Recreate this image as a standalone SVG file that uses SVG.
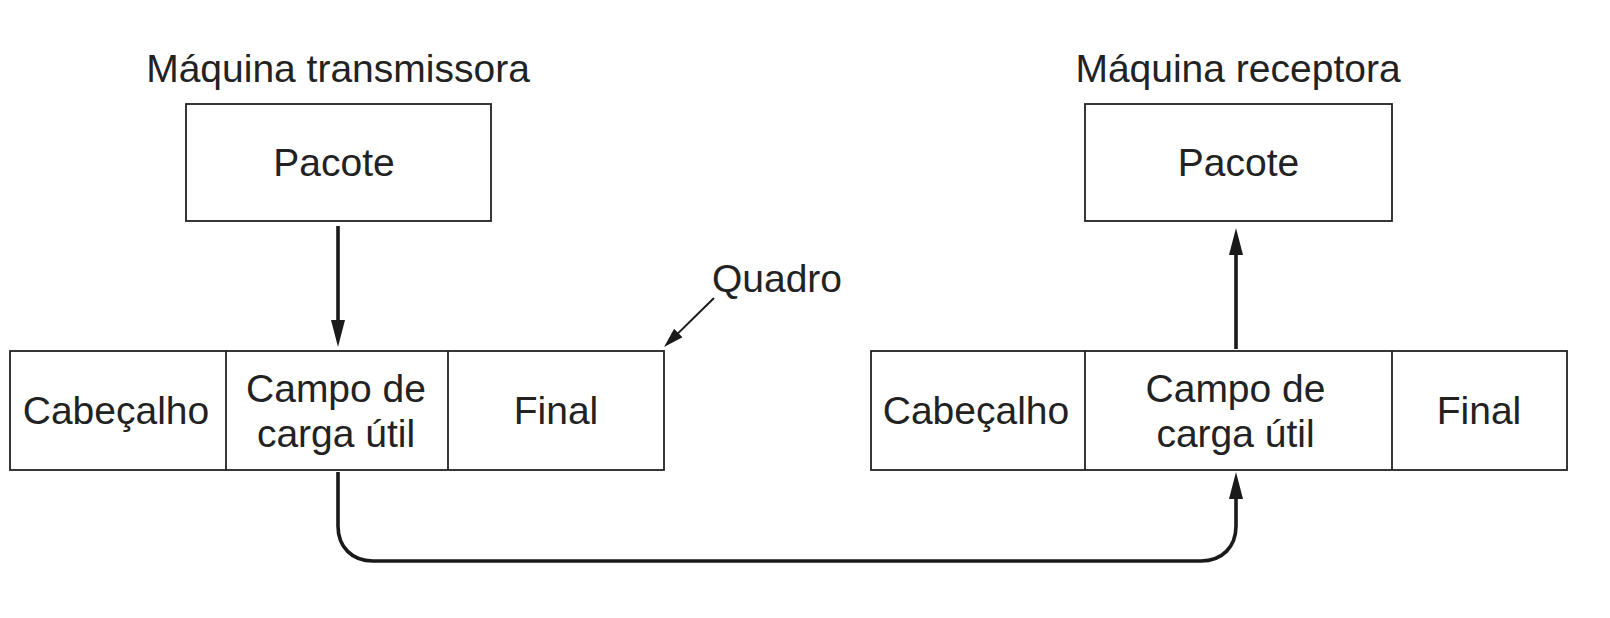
<svg xmlns="http://www.w3.org/2000/svg" width="1610" height="618" viewBox="0 0 1610 618">
<defs>
<style>
.box{fill:#fff;stroke:#222;stroke-width:1.8}
.div{stroke:#222;stroke-width:1.8}
.t{font-family:"Liberation Sans",Arial,sans-serif;font-size:39px;fill:#222;text-anchor:middle}
.conn{fill:none;stroke:#1a1a1a;stroke-width:3.6}
.thin{fill:none;stroke:#1a1a1a;stroke-width:2}
</style>
<marker id="ah" markerUnits="userSpaceOnUse" markerWidth="28" markerHeight="16" refX="7" refY="7" orient="auto" viewBox="0 0 28 14">
<path d="M0,0 L27,7 L0,14 z" fill="#1a1a1a"/>
</marker>
<marker id="ahs" markerUnits="userSpaceOnUse" markerWidth="22" markerHeight="14" refX="8" refY="6" orient="auto" viewBox="0 0 22 12">
<path d="M0,0 L20,6 L0,12 z" fill="#1a1a1a"/>
</marker>
</defs>
<rect width="1610" height="618" fill="#fff"/>
<g id="label-tx"><text class="t" x="338" y="82">Máquina transmissora</text></g>
<g id="label-rx"><text class="t" x="1238" y="82">Máquina receptora</text></g>
<g id="pacote-tx">
<rect class="box" x="186" y="104" width="305" height="117"/>
<text class="t" x="334" y="176">Pacote</text>
</g>
<g id="pacote-rx">
<rect class="box" x="1085" y="104" width="307" height="117"/>
<text class="t" x="1238.5" y="176">Pacote</text>
</g>
<g id="quadro-tx">
<rect class="box" x="10" y="351" width="654" height="119"/>
<line class="div" x1="226" y1="351" x2="226" y2="470"/>
<line class="div" x1="448" y1="351" x2="448" y2="470"/>
<text class="t" x="116" y="424">Cabeçalho</text>
<text class="t" x="336" y="402">Campo de</text>
<text class="t" x="336" y="447">carga útil</text>
<text class="t" x="556" y="424">Final</text>
</g>
<g id="quadro-rx">
<rect class="box" x="871" y="351" width="696" height="119"/>
<line class="div" x1="1085" y1="351" x2="1085" y2="470"/>
<line class="div" x1="1392" y1="351" x2="1392" y2="470"/>
<text class="t" x="976" y="424">Cabeçalho</text>
<text class="t" x="1235.5" y="402">Campo de</text>
<text class="t" x="1235.5" y="447">carga útil</text>
<text class="t" x="1479" y="424">Final</text>
</g>
<g id="quadro-label"><text class="t" x="777" y="292">Quadro</text></g>
<g id="connectors">
<path class="conn" d="M338,226 V327" marker-end="url(#ah)"/>
<path class="conn" d="M1236,349 V248" marker-end="url(#ah)"/>
<path class="conn" d="M338,472 V526 C338,547 352,561 373,561 H1201 C1222,561 1236,547 1236,526 V492" marker-end="url(#ah)"/>
<path class="thin" d="M714,298 L672.6,338.6" marker-end="url(#ahs)"/>
</g>
</svg>
